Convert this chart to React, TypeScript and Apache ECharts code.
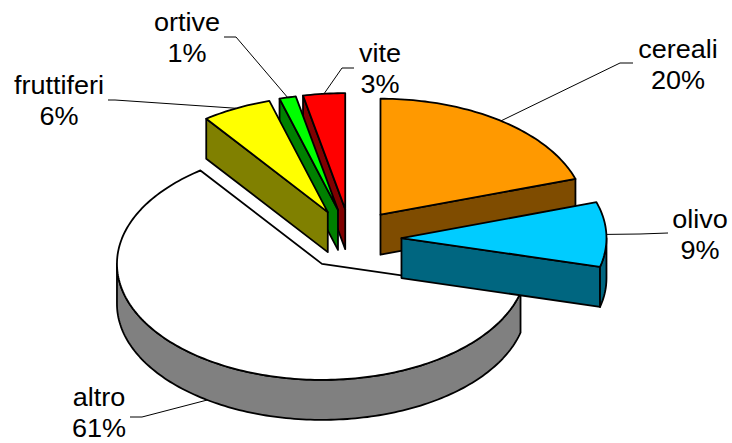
import React, { useEffect, useRef } from "react";
import * as echarts from "echarts";

const names = ["cereali", "olivo", "altro", "fruttiferi", "ortive", "vite"];
const shares = [20.0, 9.0, 60.9, 5.5, 1.3, 3.3];
const topColors = ["#FF9900", "#00CCFF", "#FFFFFF", "#FFFF00", "#00FF00", "#FF0000"];
const wallColors = ["#7F4C00", "#006680", "#808080", "#808000", "#008000", "#800000"];
const drawOrder = [2, 5, 4, 3, 0, 1];

// Layout of the drawn pie
const CX = 350.5, CY = 239, RX = 205, RY = 116, DEPTH = 40, EX = 51, EY = 30;
// Label centres and the knee/end of each leader, per slice
const labelPos = [[678, 49], [700, 219], [99, 397], [59, 85], [187, 22], [380, 53]];
const leaderEnd = [[633, 63], [668, 233], [130, 417], [108, 100], [224, 37], [354, 68]];
const leaderKnee = [[620, 63], [640, 234], [142, 417], [115, 100], [236, 37], [342, 68]];
const LINE_H = 31;
const FONT = 26;
const TEXT_STRETCH = 1.04;

const total = shares.reduce((a, b) => a + b, 0);
const toRad = (v: number) => (v / total) * Math.PI * 2;
const starts: number[] = [];
shares.reduce((acc, v, i) => { starts[i] = acc; return acc + toRad(v); }, 0);

function renderItem(params: any) {
  const i = drawOrder[params.dataIndex];
  const a0 = starts[i];
  const a1 = a0 + toRad(shares[i]);
  const mid = (a0 + a1) / 2;
  const ax = CX + EX * Math.sin(mid);
  const ay = CY - EY * Math.cos(mid);
  const rim = (t: number, d = 0): number[] => [ax + RX * Math.sin(t), ay - RY * Math.cos(t) + d];
  const arc = (from: number, to: number, d = 0) => {
    const n = Math.max(2, Math.ceil(Math.abs(to - from) / 0.02));
    const pts: number[][] = [];
    for (let k = 0; k <= n; k++) pts.push(rim(from + ((to - from) * k) / n, d));
    return pts;
  };
  const edge = { stroke: "#000", lineWidth: 1.8, lineJoin: "round" };
  const wallStyle = { ...edge, fill: wallColors[i] };
  const children: any[] = [];
  const radial = (t: number) => {
    const p = rim(t);
    children.push({
      type: "polygon",
      shape: { points: [[ax, ay], p, [p[0], p[1] + DEPTH], [ax, ay + DEPTH]] },
      style: wallStyle,
    });
  };
  // radial walls that face the viewer
  if (Math.sin(a0) < -1e-6) radial(a0);
  if (Math.sin(a1) > 1e-6) radial(a1);
  // outer wall, front half only
  const from = Math.max(a0, Math.PI / 2);
  const to = Math.min(a1, (Math.PI * 3) / 2);
  if (to > from) {
    children.push({
      type: "polygon",
      shape: { points: [...arc(from, to), ...arc(to, from, DEPTH)] },
      style: wallStyle,
    });
  }
  // top face
  children.push({
    type: "polygon",
    shape: { points: [[ax, ay], ...arc(a0, a1)] },
    style: { ...edge, fill: topColors[i] },
  });
  // leader
  const front = Math.cos(mid) < 0;
  const anchor = rim(mid, front ? DEPTH : 0);
  children.push({
    type: "polyline",
    shape: { points: [anchor, leaderKnee[i], leaderEnd[i]] },
    style: { stroke: "#000", lineWidth: 1, fill: "none" },
  });
  // label
  const [lx, ly] = labelPos[i];
  [names[i], Math.round(shares[i]) + "%"].forEach((t, k) => {
    children.push({
      type: "text",
      x: lx,
      y: ly + k * LINE_H,
      scaleX: TEXT_STRETCH,
      style: {
        text: t,
        fill: "#000",
        font: `${FONT}px "Liberation Sans", Arial, sans-serif`,
        align: "center",
        verticalAlign: "middle",
      },
    });
  });
  return { type: "group", children };
}

export default function App() {
  const ref = useRef<HTMLDivElement>(null);
  useEffect(() => {
    document.body.style.margin = "0";
    const chart = echarts.init(ref.current!, null, { renderer: "svg" });
    chart.setOption({
      animation: false,
      backgroundColor: "#fff",
      series: [
        {
          type: "custom",
          coordinateSystem: "none",
          renderItem,
          data: drawOrder.map((i) => [shares[i]]),
          silent: true,
        },
      ],
    });
    return () => chart.dispose();
  }, []);
  return <div ref={ref} style={{ width: 732, height: 443 }} />;
}
